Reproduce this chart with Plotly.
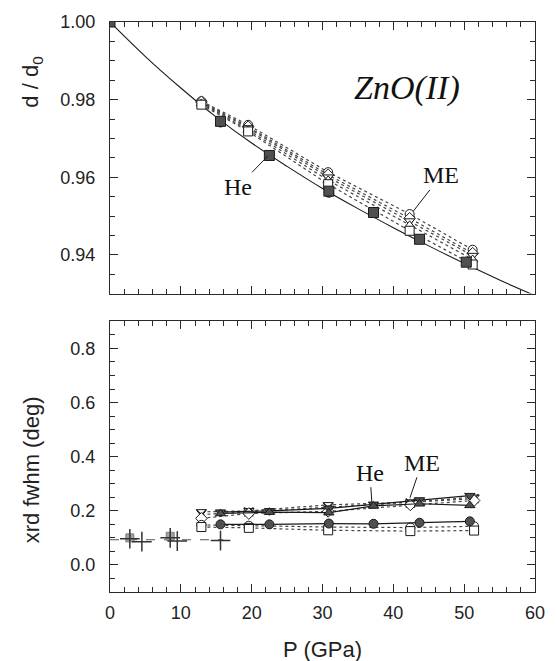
import plotly.graph_objects as go

# ---------------- data ----------------
# equation-of-state curve for ZnO(II)
eos_p = [0, 5, 10, 15, 20, 25, 30, 35, 40, 45, 50, 55, 60]
eos_d = [1.0000, 0.9911, 0.9830, 0.9755, 0.9688, 0.9628, 0.9571, 0.9519, 0.9470, 0.9423, 0.9378, 0.9335, 0.9295]

# d/d0, helium medium
he_sq_p = [0, 15.6, 22.5, 30.9, 37.2, 43.7, 50.3]
he_sq_d = [1.0000, 0.9744, 0.9656, 0.9564, 0.9509, 0.9440, 0.9381]
he_ci_p = [15.6, 30.9]
he_ci_d = [0.9741, 0.9560]

# d/d0, methanol-ethanol medium (several reflections)
me_p = [12.9, 19.5, 30.8, 42.3, 51.2]
me_circle = [0.9796, 0.9735, 0.9613, 0.9505, 0.9413]
me_diamond = [0.9794, 0.9730, 0.9606, 0.9494, 0.9404]
me_tridown = [0.9792, 0.9727, 0.9600, 0.9487, 0.9398]
me_triup = [0.9790, 0.9722, 0.9592, 0.9476, 0.9388]
me_square = [0.9787, 0.9718, 0.9582, 0.9462, 0.9375]

# xrd fwhm, low-pressure phase
lp_sq_p = [2.8, 8.5]
lp_sq_w = [0.100, 0.106]
lp_cr_p = [2.8, 4.5, 8.5, 9.5, 15.6]
lp_cr_w = [0.097, 0.086, 0.100, 0.088, 0.090]
lp_ref_p = [0, 16]
lp_ref_w = [0.093, 0.093]

# xrd fwhm, helium medium
he_w_p = [15.6, 22.5, 30.9, 37.2, 43.7, 50.8]
he_w_a = [0.195, 0.200, 0.209, 0.224, 0.240, 0.256]
he_w_b = [0.190, 0.195, 0.193, 0.218, 0.226, 0.220]
he_w_c = [0.150, 0.150, 0.153, 0.152, 0.156, 0.161]

# xrd fwhm, methanol-ethanol medium
me_w_p = [12.9, 19.6, 30.8, 42.4, 51.4]
me_w_tri = [0.196, 0.200, 0.222, 0.232, 0.250]
me_w_x = [0.186, 0.196, 0.212, 0.229, 0.245]
me_w_dia = [0.172, 0.190, 0.198, 0.222, 0.238]
me_w_ci = [0.148, 0.145, 0.140, 0.138, 0.143]
me_w_sq = [0.140, 0.137, 0.128, 0.125, 0.127]

DARK = "#505050"
INK = "#1a1a1a"
AX = "#2a2a2a"

fig = go.Figure()

def open_series(x, y, sym, xa, ya, size=9):
    fig.add_trace(go.Scatter(
        x=x, y=y, xaxis=xa, yaxis=ya, mode="lines+markers",
        line=dict(color="#444444", width=1.2, dash="dot"),
        marker=dict(symbol=sym, size=size, color="white", line=dict(color=INK, width=1)),
        showlegend=False, hoverinfo="skip"))

def he_series(x, y, sym, xa, ya, size=9, mode="lines+markers"):
    fig.add_trace(go.Scatter(
        x=x, y=y, xaxis=xa, yaxis=ya, mode=mode,
        line=dict(color=INK, width=1.2),
        marker=dict(symbol=sym, size=size, color=DARK, line=dict(color=INK, width=1)),
        showlegend=False, hoverinfo="skip"))

# ---- top panel: d/d0 ----
fig.add_trace(go.Scatter(x=eos_p, y=eos_d, xaxis="x2", yaxis="y", mode="lines",
                         line=dict(color=INK, width=1.1, shape="spline"),
                         showlegend=False, hoverinfo="skip"))
for ys, sym in [(me_circle, "circle"), (me_diamond, "diamond"), (me_tridown, "triangle-down"),
                (me_triup, "triangle-up"), (me_square, "square")]:
    open_series(me_p, ys, sym, "x2", "y")
he_series(he_ci_p, he_ci_d, "circle", "x2", "y", size=9, mode="markers")
he_series(he_sq_p, he_sq_d, "square", "x2", "y", size=10, mode="markers")

# ---- bottom panel: xrd fwhm ----
fig.add_trace(go.Scatter(x=lp_ref_p, y=lp_ref_w, xaxis="x", yaxis="y2", mode="lines",
                         line=dict(color="#555555", width=1.2, dash="dash"),
                         showlegend=False, hoverinfo="skip"))
fig.add_trace(go.Scatter(x=lp_sq_p, y=lp_sq_w, xaxis="x", yaxis="y2", mode="markers",
                         marker=dict(symbol="square", size=8, color="#a0a0a0",
                                     line=dict(color="#808080", width=1)),
                         showlegend=False, hoverinfo="skip"))
fig.add_trace(go.Scatter(x=lp_cr_p, y=lp_cr_w, xaxis="x", yaxis="y2", mode="markers",
                         marker=dict(symbol="cross-thin-open", size=14, color="#333333",
                                     line=dict(color="#333333", width=1.5)),
                         showlegend=False, hoverinfo="skip"))
for ys, sym in [(me_w_tri, "triangle-down"), (me_w_x, "x-thin-open"), (me_w_dia, "diamond"),
                (me_w_ci, "circle"), (me_w_sq, "square")]:
    if sym == "x-thin-open":
        fig.add_trace(go.Scatter(
            x=me_w_p, y=ys, xaxis="x", yaxis="y2", mode="lines+markers",
            line=dict(color="#444444", width=1.2, dash="dot"),
            marker=dict(symbol=sym, size=9, color=INK, line=dict(color=INK, width=1.2)),
            showlegend=False, hoverinfo="skip"))
    else:
        open_series(me_w_p, ys, sym, "x", "y2")
he_series(he_w_p, he_w_a, "triangle-down", "x", "y2")
he_series(he_w_p, he_w_b, "triangle-up", "x", "y2")
he_series(he_w_p, he_w_c, "circle", "x", "y2")

# ---------------- axes ----------------
tickfont = dict(family="Liberation Sans, Arial, sans-serif", size=18, color="#222222")
common = dict(showline=True, linecolor=AX, linewidth=1, mirror="allticks",
              ticks="inside", ticklen=8, tickcolor=AX, tickwidth=1.2,
              showgrid=False, zeroline=False, tickfont=tickfont)
minor_style = dict(ticklen=5, ticks="inside", tickcolor=AX, tickwidth=1, showgrid=False)

x_ticks = dict(range=[0, 60], dtick=10, tick0=0, minor=dict(dtick=2, **minor_style))
y1_ticks = dict(range=[0.93, 1.0], dtick=0.02, tick0=0.94, minor=dict(dtick=0.005, **minor_style))
y2_ticks = dict(range=[-0.1, 0.9], dtick=0.2, tick0=0, minor=dict(dtick=0.05, **minor_style))

fig.update_layout(
    width=557, height=661,
    margin=dict(l=110, r=12, t=17, b=69),
    paper_bgcolor="white", plot_bgcolor="white",
    xaxis=dict(domain=[0, 1], anchor="y2", ticklabelstandoff=4, **x_ticks, **common),
    xaxis2=dict(domain=[0, 1], anchor="y", showticklabels=False, **x_ticks, **common),
    yaxis=dict(domain=[0.5235, 1.0], anchor="x2", tickformat=".2f", ticklabelstandoff=10,
               **y1_ticks, **common),
    yaxis2=dict(domain=[0, 0.4748], anchor="x", tickformat=".1f", ticklabelstandoff=10,
                **y2_ticks, **common),
)

title_font = dict(family="Liberation Sans, Arial, sans-serif", size=22, color="#222222")
serif = dict(family="Liberation Serif, Times New Roman, serif", size=24, color="#111111")

annotations = [
    dict(text="d / d<sub>0</sub>", xref="paper", yref="paper", x=-0.184, y=0.895,
         textangle=-90, showarrow=False, font=title_font, xanchor="center", yanchor="middle"),
    dict(text="xrd fwhm (deg)", xref="paper", yref="paper", x=-0.184, y=0.215,
         textangle=-90, showarrow=False, font=title_font, xanchor="center", yanchor="middle"),
    dict(text="P (GPa)", xref="paper", yref="paper", x=0.5, y=-0.101,
         showarrow=False, font=title_font, xanchor="center", yanchor="middle"),
    dict(text="<i>ZnO(II)</i>", xref="x2", yref="y", x=41.9, y=0.9831, showarrow=False,
         font=dict(family="Liberation Serif, Times New Roman, serif", size=34, color="#111111")),
    dict(text="He", xref="x2", yref="y", x=22.3, y=0.9655, ax=-30, ay=31,
         showarrow=True, arrowhead=0, arrowwidth=1, arrowcolor=INK, font=serif),
    dict(text="ME", xref="x2", yref="y", x=42.8, y=0.9512, ax=28, ay=-36,
         showarrow=True, arrowhead=0, arrowwidth=1, arrowcolor=INK, font=serif),
    dict(text="He", xref="x", yref="y2", x=36.97, y=0.230, ax=-2, ay=-30,
         showarrow=True, arrowhead=0, arrowwidth=1, arrowcolor=INK, font=serif),
    dict(text="ME", xref="x", yref="y2", x=42.34, y=0.248, ax=12, ay=-35,
         showarrow=True, arrowhead=0, arrowwidth=1, arrowcolor=INK, font=serif),
]
fig.update_layout(annotations=annotations)

fig.write_html("out.html")
